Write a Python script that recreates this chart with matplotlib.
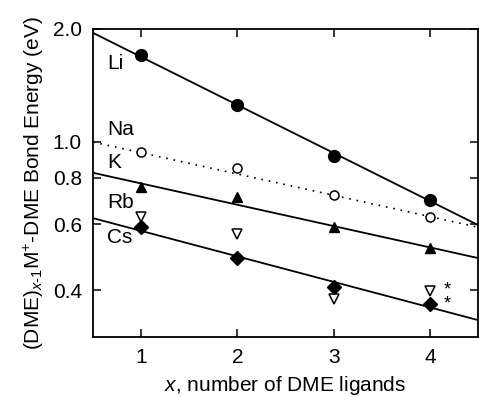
import matplotlib
matplotlib.use("Agg")
import matplotlib.pyplot as plt
from matplotlib.ticker import NullLocator

plt.rcParams['font.family'] = ['Liberation Sans', 'DejaVu Sans']
plt.rcParams['mathtext.fontset'] = 'custom'
plt.rcParams['mathtext.rm'] = 'Liberation Sans'
plt.rcParams['mathtext.it'] = 'Liberation Sans:italic'

# data
x = [1, 2, 3, 4]
li = [1.705, 1.252, 0.915, 0.697]
na = [0.939, 0.849, 0.719, 0.628]
k = [0.757, 0.711, 0.590, 0.519]
rb = [0.629, 0.565, 0.379, 0.398]
cs = [0.590, 0.488, 0.408, 0.367]

# fitted lines, values at x = 0.5 and x = 4.5
fit_x = [0.5, 4.5]
li_fit = [1.953, 0.598]
na_fit = [0.997, 0.590]
k_fit = [0.825, 0.488]
cs_fit = [0.624, 0.333]

# labels on the left side
labels = ['Li', 'Na', 'K', 'Rb', 'Cs']
label_y = [1.62, 1.08, 0.88, 0.689, 0.555]
star_y = 0.384  # middle of the two asterisks at x = 4

fig = plt.figure(figsize=(4.79, 3.97), dpi=100)
ax = fig.add_axes([0.194, 0.151, 0.804, 0.776])

ax.plot(fit_x, li_fit, color='black', lw=1.3)
ax.plot(fit_x, na_fit, color='black', lw=1.2, linestyle=(0, (1, 3.5)))
ax.plot(fit_x, k_fit, color='black', lw=1.3)
ax.plot(fit_x, cs_fit, color='black', lw=1.3)

ax.plot(x, li, 'o', color='black', ms=8.5, ls='none')
ax.plot(x, na, 'o', mfc='white', mec='black', mew=1.1, ms=6.5, ls='none')
ax.plot(x, k, '^', color='black', ms=7, ls='none')
ax.plot(x, rb, 'v', mfc='white', mec='black', mew=1.1, ms=7.5, ls='none')
ax.plot(x, cs, 'D', color='black', ms=7, ls='none')

for lab, yy in zip(labels, label_y):
    ax.text(0.645, yy, lab, fontsize=15, va='center', ha='left')
ax.text(4.18, star_y, '*\n*', fontsize=13, va='center', ha='center',
        linespacing=0.75)

ax.set_yscale('log')
ax.set_xlim(0.5, 4.5)
ax.set_ylim(0.3, 2.0)
ax.set_xticks([1, 2, 3, 4])
ax.set_yticks([0.4, 0.6, 0.8, 1.0, 2.0])
ax.set_yticklabels(['0.4', '0.6', '0.8', '1.0', '2.0'])
ax.yaxis.set_minor_locator(NullLocator())
ax.tick_params(direction='in', length=6, width=1.1, labelsize=15,
               top=True, right=True, pad=8)
for s in ax.spines.values():
    s.set_linewidth(1.3)

ax.set_xlabel('$x$, number of DME ligands', fontsize=15, labelpad=5)
ax.set_ylabel('(DME)$_{x\\text{-}1}$M$^{+}$-DME Bond Energy (eV)', fontsize=15, labelpad=5)

fig.savefig('out.png', dpi=100)
